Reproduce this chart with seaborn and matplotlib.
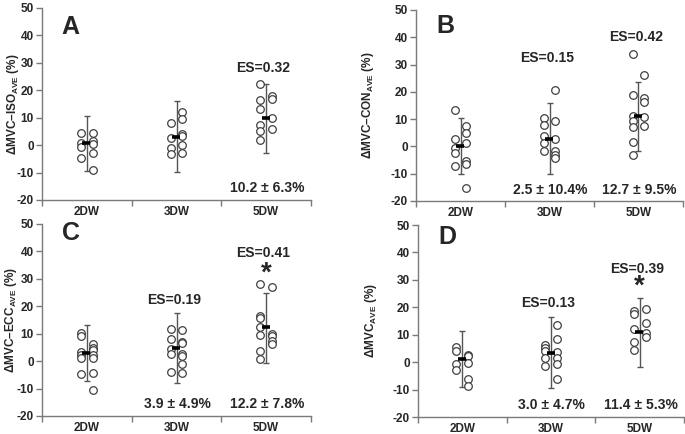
import matplotlib
matplotlib.use("Agg")
import matplotlib.pyplot as plt
import seaborn as sns
import pandas as pd
import numpy as np

# groups on the x axis
groups = ["2DW", "3DW", "5DW"]

# individual values, left and right column of each group
a_left = [[4.6, 0.7, -0.6, -4.8], [8.0, 2.6, -1.0, -3.2], [22.3, 16.5, 13.2, 7.4, 5.2, 1.8]]
a_right = [[4.4, 1.6, 0.4, -2.7, -9.0], [12.0, 9.4, 4.0, 3.4, 0.0, -3.0], [17.8, 17.0, 9.9, 5.9]]
b_left = [[13.5, 2.8, -0.5, -2.3, -7.0], [10.5, 8.0, 3.8, 1.3, -1.7],
          [33.9, 18.8, 11.0, 9.5, 7.1, 1.5, -3.2]]
b_right = [[7.4, 5.0, 1.3, -5.4, -6.6, -15.1], [20.6, 9.3, 2.8, -1.5, -3.2, -4.1],
           [26.2, 17.6, 16.1, 10.7, 7.4]]
c_left = [[10.2, 9.0, 3.3, 2.4, 1.0, -4.6], [11.8, 8.2, 4.4, 2.7, -4.0],
          [28.3, 16.5, 15.6, 12.4, 9.5, 3.7, 0.9]]
c_right = [[6.1, 4.9, 4.1, 2.4, 1.0, -4.3, -10.4], [11.2, 7.1, 6.6, 2.7, 1.7, -1.0, -4.3],
           [27.1, 10.0, 9.1, 7.3, 6.2]]
d_left = [[5.6, 3.9, -0.7, -2.8], [6.1, 5.2, 3.9, 1.5, -1.5], [18.5, 17.5, 12.0, 7.5, 4.6]]
d_right = [[2.7, 2.3, -0.2, -6.0, -8.8], [13.4, 8.4, 3.8, 1.5, -0.7, -6.2], [19.4, 14.2, 10.7, 9.0]]

# group means and error bar ends
a_mean, a_hi, a_lo = [0.6, 3.0, 9.8], [10.8, 16.0, 22.2], [-9.6, -9.8, -3.0]
b_mean, b_hi, b_lo = [0.3, 2.9, 11.3], [10.5, 16.0, 23.7], [-10.0, -10.2, -1.7]
c_mean, c_hi, c_lo = [2.9, 4.9, 12.6], [13.0, 17.4, 24.9], [-7.3, -8.0, -0.5]
d_mean, d_hi, d_lo = [1.3, 3.5, 11.0], [11.3, 16.6, 23.5], [-8.9, -9.5, -1.8]

# annotations: (group index, y, text)
a_es = [(2, 28.0, "ES=0.32")]
b_es = [(1, 32.3, "ES=0.15"), (2, 40.0, "ES=0.42")]
c_es = [(1, 22.2, "ES=0.19"), (2, 39.3, "ES=0.41")]
d_es = [(1, 21.7, "ES=0.13"), (2, 34.1, "ES=0.39")]
a_stats = [(2, "10.2 ± 6.3%")]
b_stats = [(1, "2.5 ± 10.4%"), (2, "12.7 ± 9.5%")]
c_stats = [(1, "3.9 ± 4.9%"), (2, "12.2 ± 7.8%")]
d_stats = [(1, "3.0 ± 4.7%"), (2, "11.4 ± 5.3%")]
c_star = [(2, 32.0)]
d_star = [(2, 27.6)]

ylabels = [r"ΔMVC–ISO$_{\mathbf{AVE}}$ (%)", r"ΔMVC–CON$_{\mathbf{AVE}}$ (%)",
           r"ΔMVC–ECC$_{\mathbf{AVE}}$ (%)", r"ΔMVC$_{\mathbf{AVE}}$ (%)"]
letters = ["A", "B", "C", "D"]

sns.set_style("ticks")
plt.rcParams["font.family"] = ["Liberation Sans", "DejaVu Sans"]
plt.rcParams["mathtext.fontset"] = "custom"
plt.rcParams["mathtext.rm"] = "Liberation Sans"
plt.rcParams["mathtext.bf"] = "Liberation Sans:bold"
plt.rcParams["axes.unicode_minus"] = False

fig = plt.figure(figsize=(6.85, 4.34), dpi=100)
W, H = 685, 434
boxes = [(42, 311, 8, 200), (416, 683, 10, 201), (42, 311, 224, 416), (418, 684, 225, 417)]
letter_pos = [(0.072, 0.90), (0.078, 0.916), (0.076, 0.953), (0.078, 0.94)]
ylab_x = [-0.078, -0.148, -0.087, -0.147]

panels = [
    (a_left, a_right, a_mean, a_hi, a_lo, a_es, a_stats, []),
    (b_left, b_right, b_mean, b_hi, b_lo, b_es, b_stats, []),
    (c_left, c_right, c_mean, c_hi, c_lo, c_es, c_stats, c_star),
    (d_left, d_right, d_mean, d_hi, d_lo, d_es, d_stats, d_star),
]

gray = "#7a7a7a"
for k, (left, right, mean, hi, lo, es, stats, star) in enumerate(panels):
    x0, x1, y0, y1 = boxes[k]
    ax = fig.add_axes([x0 / W, 1 - y1 / H, (x1 - x0) / W, (y1 - y0) / H])

    rows = []
    for gi, g in enumerate(groups):
        for v in left[gi]:
            rows.append((g, gi, -1, v))
        for v in right[gi]:
            rows.append((g, gi, 1, v))
    df = pd.DataFrame(rows, columns=["group", "gidx", "side", "value"])
    df["x"] = df["gidx"] + df["side"] * 0.066

    idx = np.arange(len(groups))
    mean = np.array(mean)
    ax.errorbar(idx, mean, yerr=[mean - np.array(lo), np.array(hi) - mean], fmt="none",
                ecolor="#555555", elinewidth=1.0, capsize=2.2, capthick=1.0, zorder=2)
    sns.scatterplot(data=df, x="x", y="value", ax=ax, s=30, color="white",
                    edgecolor="#404040", linewidth=0.9, zorder=3, legend=False)
    ax.hlines(mean, idx - 0.05, idx + 0.04, color="black", lw=2.6, zorder=4)

    for gi, yv, t in es:
        ax.text(gi - 0.03, yv, t, ha="center", va="center", fontsize=10, fontweight="bold")
    for gi, t in stats:
        ax.text(gi + 0.01, -15.8, t, ha="center", va="center", fontsize=10, fontweight="bold")
    for gi, yv in star:
        ax.text(gi, yv, "*", ha="center", va="center", fontsize=20, fontweight="bold")
    ax.text(letter_pos[k][0], letter_pos[k][1], letters[k], transform=ax.transAxes,
            ha="left", va="center", fontsize=18, fontweight="bold")

    ax.set_xlim(-0.5, 2.5)
    ax.set_ylim(-20, 50)
    ax.set_yticks(range(-20, 51, 10))
    ax.set_xticks(idx)
    ax.set_xticklabels(groups, fontsize=8.5, fontweight="bold")
    ax.set_xticks([-0.5, 0.5, 1.5, 2.5], minor=True)
    ax.tick_params(axis="x", which="major", length=0, pad=4.5)
    ax.tick_params(axis="x", which="minor", length=4, color=gray, width=1)
    ax.tick_params(axis="y", length=4, color=gray, width=1, labelsize=8.5, pad=2)
    for lab in ax.get_yticklabels():
        lab.set_fontweight("bold")
    ax.set_xlabel("")
    ax.set_ylabel(ylabels[k], fontsize=8.5, fontweight="bold")
    ax.yaxis.set_label_coords(ylab_x[k], 0.5)
    sns.despine(ax=ax)
    for s in ["left", "bottom"]:
        ax.spines[s].set_color(gray)
        ax.spines[s].set_linewidth(1)

fig.savefig("out.png", dpi=100)
